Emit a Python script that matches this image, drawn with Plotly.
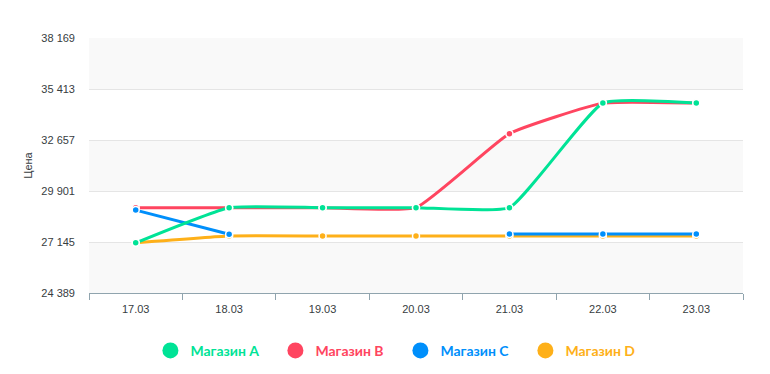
import plotly.graph_objects as go

dates = ["17.03", "18.03", "19.03", "20.03", "21.03", "22.03", "23.03"]
store_a = [27100, 29000, 29000, 29000, 29000, 34650, 34650]
store_b = [29000, 29000, 29000, 29000, 33000, 34650, 34650]
store_c = [28870, 27560, None, None, 27580, 27580, 27580]
store_d = [27100, 27470, 27470, 27470, 27470, 27470, 27470]
names = ["Магазин A", "Магазин B", "Магазин C", "Магазин D"]
colors = ["#00E396", "#FF4560", "#008FFB", "#FEB019"]
y_ticks = [24389, 27145, 29901, 32657, 35413, 38169]
y_labels = ["24 389", "27 145", "29 901", "32 657", "35 413", "38 169"]

series = [store_a, store_b, store_c, store_d]
fig = go.Figure()

# lines: first series on top
for vals, name, col in reversed(list(zip(series, names, colors))):
    fig.add_trace(go.Scatter(
        x=dates, y=vals, mode="lines", name=name, showlegend=False,
        connectgaps=False, hoverinfo="skip",
        line=dict(color=col, width=3, shape="spline", smoothing=0.4),
    ))

# markers layer above all lines
for idx in [1, 3, 2, 0]:
    fig.add_trace(go.Scatter(
        x=dates, y=series[idx], mode="markers", name=names[idx], showlegend=False,
        marker=dict(size=7, color=colors[idx], line=dict(color="white", width=1.5)),
    ))

for name, col in zip(names, colors):
    fig.add_trace(go.Scatter(
        x=[None], y=[None], mode="markers",
        name=f"<span style='color:{col}'><b>{name}</b></span>",
        marker=dict(size=16, color=col),
    ))

shapes = []
for i in range(len(y_ticks) - 1):
    if (len(y_ticks) - 2 - i) % 2 == 0:
        shapes.append(dict(type="rect", xref="paper", yref="y", x0=0, x1=1,
                           y0=y_ticks[i], y1=y_ticks[i + 1],
                           fillcolor="#f9f9f9", line_width=0, layer="below"))
shapes.append(dict(type="line", xref="x", yref="paper", x0=dates[-1], x1=dates[-1],
                   y0=0, y1=1, line=dict(color="#c8c8c8", width=1, dash="dash"),
                   layer="below"))

fig.update_layout(
    width=770, height=374,
    margin=dict(l=89, r=27, t=38, b=81, autoexpand=False),
    paper_bgcolor="white", plot_bgcolor="white",
    shapes=shapes,
    font=dict(family="Liberation Sans, Arial, sans-serif", size=11, color="#373d3f"),
    legend=dict(orientation="h", x=0.52, xanchor="center", xref="container",
                y=0.062, yanchor="middle", yref="container",
                font=dict(family="Lato, sans-serif", size=14),
                entrywidth=80, entrywidthmode="pixels", traceorder="normal"),
    xaxis=dict(type="category", range=[-0.5, 6.5], showgrid=False,
               showline=True, linecolor="#90a4ae", linewidth=1,
               ticks="outside", tickson="boundaries", tickcolor="#90a4ae", ticklen=6,
               ticklabelstandoff=6, tickangle=0, zeroline=False, fixedrange=True),
    yaxis=dict(range=[y_ticks[0], y_ticks[-1]], tickvals=y_ticks, ticktext=y_labels,
               showgrid=True, gridcolor="#e5e5e5", zeroline=False, showline=False,
               ticklabelstandoff=13,
               title=dict(text="Цена", font=dict(size=11), standoff=6)),
)

fig.write_html("out.html")
